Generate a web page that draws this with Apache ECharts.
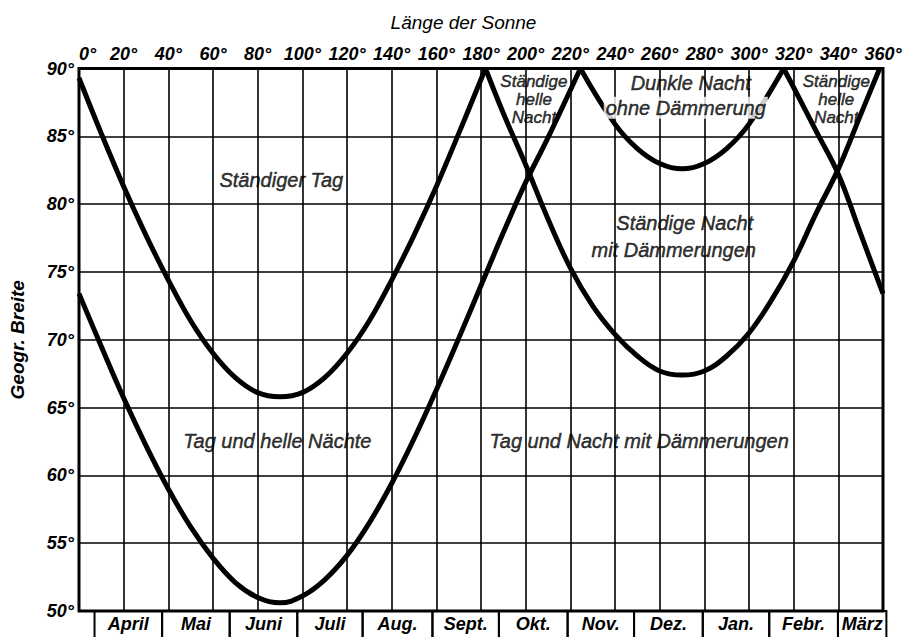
<!DOCTYPE html>
<html>
<head>
<meta charset="utf-8">
<script src="https://cdn.jsdelivr.net/npm/echarts@6/dist/echarts.min.js"></script>
<style>
  html, body { margin: 0; background: #fff; }
  #chart { width: 910px; height: 637px; }
</style>
</head>
<body>
<div id="chart"></div>
<script>
// Längen der Sonne (x) und geogr. Breite (y)
const daySun = [[0, 89.3], [10, 85.2], [20, 81.3], [30, 77.7], [40, 74.4], [50, 71.4], [60, 69.0],
  [70, 67.2], [80, 66.1], [90, 65.8], [100, 66.1], [110, 67.2], [120, 69.0], [130, 71.4],
  [140, 74.4], [150, 77.7], [160, 81.3], [170, 85.2], [182, 90]];
const brightNights = [[0, 73.4], [10, 69.5], [20, 65.7], [30, 62.2], [40, 59.0], [50, 56.2],
  [60, 53.9], [70, 52.1], [80, 51.0], [90, 50.6], [100, 51.1], [110, 52.3], [120, 54.1],
  [130, 56.5], [140, 59.4], [150, 62.7], [160, 66.3], [170, 70.1], [180, 74.0], [190, 77.9],
  [200, 81.6], [210, 84.9], [224.5, 90]];
const brightNightsEnd = [[315.5, 90], [320, 88.6], [330, 85.4], [340, 82.2], [350, 77.8], [360, 73.4]];
const darkNight = [[224.5, 90], [240, 85.9], [250, 84.1], [260, 83.0], [270, 82.6], [280, 83.0],
  [290, 84.1], [300, 85.9], [315.5, 90]];
const polarNight = [[182, 90], [190, 86.7], [200, 82.9], [210, 78.9], [220, 75.3], [230, 72.5],
  [240, 70.4], [250, 68.8], [260, 67.7], [270, 67.4], [280, 67.7], [290, 68.8], [300, 70.5],
  [310, 72.9], [320, 75.8], [330, 79.3], [340, 82.6], [350, 86.6], [358.5, 90]];

const monthNames = ['April', 'Mai', 'Juni', 'Juli', 'Aug.', 'Sept.', 'Okt.', 'Nov.', 'Dez.', 'Jan.', 'Febr.', 'März'];
const monthStarts = [10, 40, 70, 100, 129, 160, 189.5, 220, 249.5, 280, 309.5, 340, 361.5];

const labelTexts = ['Ständiger Tag', 'Tag und helle Nächte', 'Tag und Nacht mit Dämmerungen',
  'Ständige Nacht', 'mit Dämmerungen', 'Dunkle Nacht', 'ohne Dämmerung',
  'Ständige\nhelle\nNacht', 'Ständige\nhelle\nNacht'];
const labelAt = [[90.6, 81.8], [88.8, 62.5], [250.8, 62.5], [271.2, 78.6], [266.3, 76.6],
  [273.9, 88.9], [271.7, 87.1], [203.7, 87.75], [339.1, 87.75]];

const font = "'Liberation Sans', Arial, sans-serif";

const chart = echarts.init(document.getElementById('chart'), null, { renderer: 'svg' });

function curve(name, data) {
  return {
    name, type: 'line', data, xAxisIndex: 0, yAxisIndex: 0,
    showSymbol: false, smooth: 0.4, silent: true,
    lineStyle: { color: '#000', width: 5 },
  };
}

const months = monthNames.map((m, i) => [monthStarts[i], monthStarts[i + 1]]);

const tickLabel = {
  formatter: '{value}°', color: '#000', fontFamily: font, fontStyle: 'italic',
  fontWeight: 'bold', fontSize: 18,
};

chart.setOption({
  animation: false,
  backgroundColor: '#fff',
  grid: [
    { left: 72, right: 27, top: 68.5, bottom: 26, show: true, borderColor: '#000', borderWidth: 3 },
    { left: 72, right: 27, top: 611, height: 40 },
  ],
  xAxis: [
    {
      gridIndex: 0, type: 'value', position: 'top', min: 0, max: 360, interval: 20,
      name: 'Länge der Sonne', nameLocation: 'middle', nameGap: 37,
      nameTextStyle: { fontFamily: font, fontStyle: 'italic', fontSize: 19, color: '#000', padding: [0, 35, 0, 0] },
      axisLine: { show: false }, axisTick: { show: false },
      axisLabel: { ...tickLabel, margin: 6, alignMinLabel: 'left', showMinLabel: true, showMaxLabel: true },
      splitLine: { show: true, lineStyle: { color: '#000', width: 1.6 } },
    },
    { gridIndex: 1, type: 'value', min: 0, max: 360, show: false },
  ],
  yAxis: [
    {
      gridIndex: 0, type: 'value', min: 50, max: 90, interval: 5,
      name: 'Geogr. Breite', nameLocation: 'middle', nameGap: 52, nameRotate: 90,
      nameTextStyle: { fontFamily: font, fontStyle: 'italic', fontWeight: 'bold', fontSize: 19, color: '#000' },
      axisLine: { show: false }, axisTick: { show: false },
      axisLabel: { ...tickLabel, margin: 5 },
      splitLine: { show: true, lineStyle: { color: '#000', width: 1.6 } },
    },
    { gridIndex: 1, type: 'value', min: 0, max: 1, show: false },
  ],
  series: [
    curve('Ständiger Tag', daySun),
    curve('Helle Nächte', brightNights),
    curve('Helle Nächte (Ende)', brightNightsEnd),
    curve('Dunkle Nacht', darkNight),
    curve('Ständige Nacht', polarNight),
    {
      type: 'scatter', xAxisIndex: 0, yAxisIndex: 0, symbolSize: 0, silent: true, z: 5,
      data: labelAt.map((p, i) => {
        const small = labelTexts[i].indexOf('\n') >= 0;
        const item = {
          value: p, name: labelTexts[i],
          label: {
            show: true, position: 'inside', formatter: '{b}', color: '#000',
            fontFamily: font, fontStyle: 'italic', fontSize: small ? 17 : 20,
            lineHeight: small ? 18 : 22, align: 'center', verticalAlign: 'middle',
            textBorderColor: '#000', textBorderWidth: 0.5,
          },
        };
        if (labelTexts[i] === 'ohne Dämmerung') {
          item.label.backgroundColor = '#fff';
          item.label.padding = [0, 2, 0, 2];
        }
        return item;
      }),
    },
    {
      type: 'custom', xAxisIndex: 1, yAxisIndex: 1, silent: true,
      data: months,
      renderItem: (params, api) => {
        const x0 = api.coord([api.value(0), 0])[0];
        const x1 = api.coord([api.value(1), 0])[0];
        const top = params.coordSys.y;
        return {
          type: 'group',
          children: [
            { type: 'rect', shape: { x: x0, y: top, width: x1 - x0, height: 40 },
              style: { fill: 'none', stroke: '#000', lineWidth: 2 } },
            { type: 'text', x: (x0 + x1) / 2, y: top + 13,
              style: { text: monthNames[params.dataIndex], align: 'center', verticalAlign: 'middle',
                fontFamily: font, fontStyle: 'italic', fontWeight: 'bold', fontSize: 18, fill: '#000' } },
          ],
        };
      },
    },
  ],
});
</script>
</body>
</html>
